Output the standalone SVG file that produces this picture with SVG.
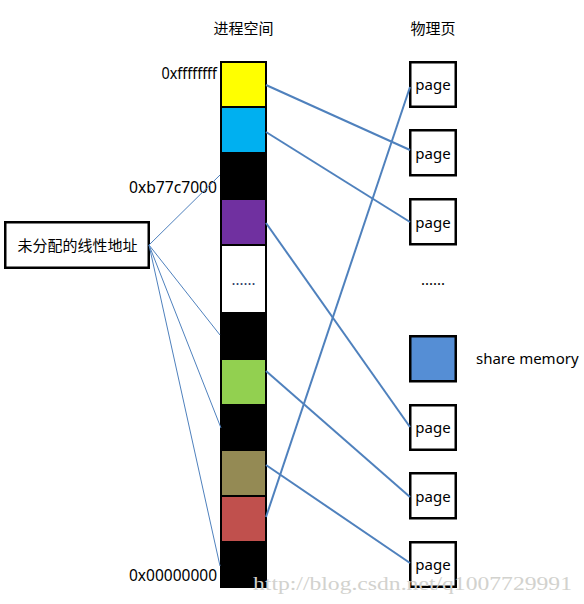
<svg xmlns="http://www.w3.org/2000/svg" width="584" height="604" viewBox="0 0 584 604">
<style>
text{font-family:"Noto Sans","Noto Sans CJK SC",sans-serif;font-size:15px;fill:#000}
.cjk{font-family:"Noto Sans CJK SC","Noto Sans",sans-serif}
.page{fill:#fff;stroke:#000;stroke-width:2.5}
.thin{stroke:#4F81BD;stroke-width:1;fill:none}
.thick{stroke:#4F81BD;stroke-width:2;fill:none}
.mid{text-anchor:middle}
.addr{font-size:15.5px}
</style>
<rect width="584" height="604" fill="#fff"/>
<text class="cjk mid" x="243.5" y="34">进程空间</text>
<text class="cjk mid" x="433" y="34">物理页</text>
<g id="column">
<rect x="220" y="61" width="47" height="527" fill="#000"/>
<rect id="blk-yellow" x="222" y="63" width="43" height="43" fill="#FFFF00"/>
<rect id="blk-blue" x="222" y="108" width="43" height="44" fill="#00B0F0"/>
<rect id="blk-purple" x="222" y="200" width="43" height="44" fill="#7030A0"/>
<rect id="blk-white" x="222" y="246" width="43" height="66" fill="#fff"/>
<text class="mid" x="243.5" y="285" style="fill:#1F3864">......</text>
<rect id="blk-green" x="222" y="360" width="43" height="44" fill="#92D050"/>
<rect id="blk-olive" x="222" y="451" width="43" height="44" fill="#948A54"/>
<rect id="blk-red" x="222" y="497" width="43" height="44" fill="#C0504D"/>
</g>
<text class="addr" x="161.5" y="79" textLength="55.5" lengthAdjust="spacingAndGlyphs">0xffffffff</text>
<text class="addr" x="129" y="193" textLength="88" lengthAdjust="spacingAndGlyphs">0xb77c7000</text>
<text class="addr" x="129" y="580.5" textLength="88" lengthAdjust="spacingAndGlyphs">0x00000000</text>
<g id="unalloc">
<rect x="5.25" y="222.25" width="143.5" height="45.5" fill="#fff" stroke="#000" stroke-width="2.5"/>
<text class="cjk mid" x="77.5" y="250.5">未分配的线性地址</text>
</g>
<g id="p1"><rect class="page" x="410.25" y="62.25" width="45.5" height="44.5"/><text class="mid" x="433" y="90">page</text></g>
<g id="p2"><rect class="page" x="410.25" y="130.25" width="45.5" height="45"/><text class="mid" x="433" y="158.5">page</text></g>
<g id="p3"><rect class="page" x="410.25" y="199.25" width="45.5" height="45"/><text class="mid" x="433" y="227.5">page</text></g>
<text class="mid" x="433" y="285">......</text>
<g id="share"><rect x="410.25" y="336.25" width="45.5" height="45" fill="#558ED5" stroke="#000" stroke-width="2.5"/></g>
<text x="476" y="364">share memory</text>
<g id="p4"><rect class="page" x="410.25" y="405.25" width="45.5" height="44.5"/><text class="mid" x="433" y="433">page</text></g>
<g id="p5"><rect class="page" x="410.25" y="473.25" width="45.5" height="45"/><text class="mid" x="433" y="501.5">page</text></g>
<g id="p6"><rect class="page" x="410.25" y="542.25" width="45.5" height="44.5"/><text class="mid" x="433" y="570">page</text></g>
<g id="connectors">
<line class="thin" x1="149" y1="245" x2="220" y2="175"/>
<line class="thin" x1="149" y1="245" x2="220" y2="335"/>
<line class="thin" x1="149" y1="245" x2="221" y2="428"/>
<line class="thin" x1="149" y1="245" x2="220" y2="566"/>
<line class="thick" x1="266" y1="85" x2="410" y2="150"/>
<line class="thick" x1="266" y1="132" x2="410" y2="222"/>
<line class="thick" x1="266" y1="517" x2="410" y2="87"/>
<line class="thick" x1="266" y1="223" x2="410" y2="427"/>
<line class="thick" x1="266" y1="371" x2="410" y2="497"/>
<line class="thick" x1="266" y1="465" x2="410" y2="563"/>
</g>
<text x="253" y="590" textLength="319" lengthAdjust="spacingAndGlyphs" style="font-family:'Liberation Serif',serif;font-size:19px;fill:#d2d2ce">http://blog.csdn.net/q1007729991</text>
</svg>
